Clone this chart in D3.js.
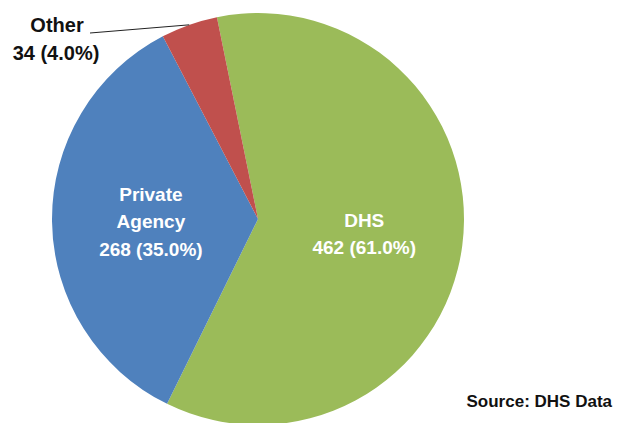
<!DOCTYPE html>
<html>
<head>
<meta charset="utf-8">
<script src="https://cdn.jsdelivr.net/npm/d3@7"></script>
<style>
  body { margin: 0; background: #fff; }
  svg { display: block; }
</style>
</head>
<body>
<script>
var categories = ["DHS", "Private Agency", "Other"];
var counts = [462, 268, 34];
var pctLabels = ["61.0%", "35.0%", "4.0%"];
var colors = ["#9BBB59", "#4F81BD", "#C0504D"];

var width = 618, height = 423;
var cx = 258, cy = 219, radius = 206;
var startDeg = -11.5;

var svg = d3.select('body')
  .append('svg')
  .attr('width', width)
  .attr('height', height);

var pie = d3.pie()
  .sort(null)
  .startAngle(startDeg * Math.PI / 180)
  .endAngle(startDeg * Math.PI / 180 + 2 * Math.PI);

var arcs = pie(counts);

var arc = d3.arc().innerRadius(0).outerRadius(radius);
var labelArc = d3.arc().innerRadius(radius * 0.52).outerRadius(radius * 0.52);
var edgeArc = d3.arc().innerRadius(radius).outerRadius(radius);

var g = svg.append('g')
  .attr('transform', 'translate(' + cx + ',' + cy + ')');

g.selectAll('path')
  .data(arcs)
  .enter()
  .append('path')
  .attr('d', arc)
  .attr('fill', function(d, i) { return colors[i]; });

// inside labels for the two big slices
var inner = arcs.slice(0, 2);
var lines = [["DHS"], ["Private", "Agency"]];
var lineH = 27.5;

inner.forEach(function(d, i) {
  var c = labelArc.centroid(d);
  var rows = lines[i].concat([counts[i] + " (" + pctLabels[i] + ")"]);
  var t = g.append('text')
    .attr('text-anchor', 'middle')
    .attr('fill', 'white')
    .style('font', 'bold 19px "Liberation Sans", Arial, sans-serif');
  var top = c[1] - (rows.length - 1) * lineH / 2 + 8;
  rows.forEach(function(r, k) {
    t.append('tspan')
      .attr('x', c[0])
      .attr('y', top + k * lineH)
      .text(r);
  });
});

// outside label for Other with leader line
var other = arcs[2];
var p = edgeArc.centroid(other);
svg.append('line')
  .attr('x1', 90)
  .attr('y1', 33)
  .attr('x2', cx + p[0])
  .attr('y2', cy + p[1])
  .attr('stroke', '#222')
  .attr('stroke-width', 1);

var ot = svg.append('text')
  .attr('text-anchor', 'middle')
  .attr('fill', '#111')
  .style('font', 'bold 20px "Liberation Sans", Arial, sans-serif');
ot.append('tspan').attr('x', 57).attr('y', 32).text(categories[2]);
ot.append('tspan').attr('x', 56).attr('y', 60).text(counts[2] + " (" + pctLabels[2] + ")");

svg.append('text')
  .attr('x', 612)
  .attr('y', 407)
  .attr('text-anchor', 'end')
  .attr('fill', '#111')
  .style('font', 'bold 17px "Liberation Sans", Arial, sans-serif')
  .text('Source: DHS Data');
</script>
</body>
</html>
